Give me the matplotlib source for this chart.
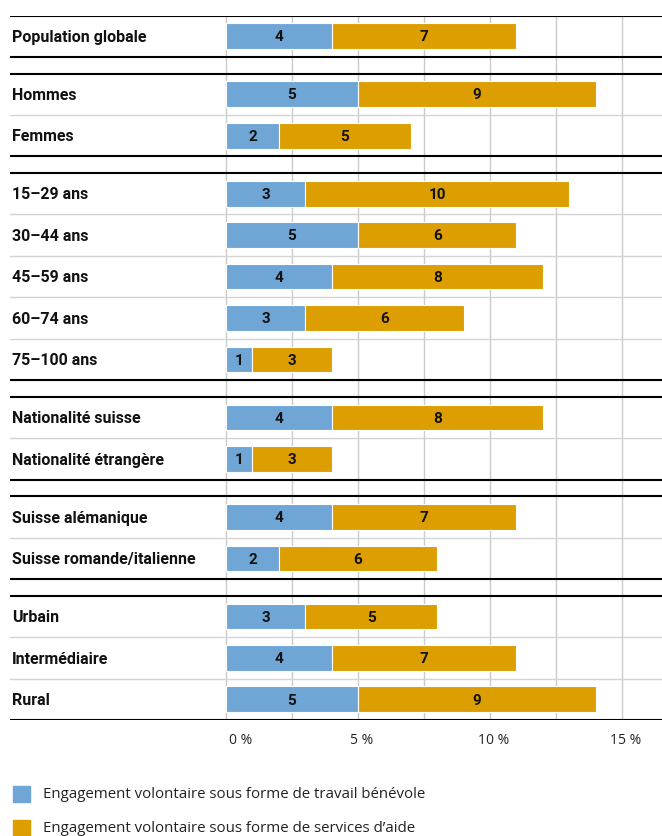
import numpy as np
import matplotlib.pyplot as plt

# Volunteer engagement by population group (share of population, %)
groups = [
    ["Population globale"],
    ["Hommes", "Femmes"],
    ["15–29 ans", "30–44 ans", "45–59 ans", "60–74 ans", "75–100 ans"],
    ["Nationalité suisse", "Nationalité étrangère"],
    ["Suisse alémanique", "Suisse romande/italienne"],
    ["Urbain", "Intermédiaire", "Rural"],
]
benevole = [4, 5, 2, 3, 5, 4, 3, 1, 4, 1, 4, 2, 3, 4, 5]
aide = [7, 9, 5, 10, 6, 8, 6, 3, 8, 3, 7, 6, 5, 7, 9]
xticks = [0, 5, 10, 15]
legend_labels = ["Engagement volontaire sous forme de travail bénévole",
                 "Engagement volontaire sous forme de services d’aide"]

blue = "#6FA6D6"
orange = "#DC9E00"
gap = 0.4

# row positions, with extra space between groups
ypos, starts, ends = [], [], []
y = 0.0
for g in groups:
    starts.append(y)
    for _ in g:
        ypos.append(y)
        y += 1
    ends.append(y - 1)
    y += gap
labels = [lab for g in groups for lab in g]
ypos = np.array(ypos)

W, H = 662, 836
fig = plt.figure(figsize=(W / 100, H / 100), dpi=100)
ax = fig.add_axes([10 / W, 1 - 720 / H, 652 / W, 704.5 / H])
px = 26.4  # pixels per percent
ax.set_xlim(-216 / px, 436 / px)
ax.set_ylim(ends[-1] + 0.5, -0.5)
ax.axis("off")

# vertical grid every 2.5 %
for gx in np.arange(0, 15.1, 2.5):
    ax.axvline(gx, color="#cbcbcb", lw=1.0, zorder=0)

# separators between rows inside a group
for s, e in zip(starts, ends):
    for r in np.arange(s, e):
        ax.axhline(r + 0.5, color="#d4d4d4", lw=1.0, zorder=0.5)

# double black lines between groups
for s, e in zip(starts, ends):
    ax.axhline(s - 0.5, color="black", lw=1.5, zorder=3)
    ax.axhline(e + 0.5, color="black", lw=1.5, zorder=3)

ax.barh(ypos, benevole, height=0.62, color=blue, edgecolor="white", lw=0.8, zorder=2)
ax.barh(ypos, aide, left=benevole, height=0.62, color=orange, edgecolor="white", lw=0.8, zorder=2)

lab_font = dict(family=["Roboto", "DejaVu Sans"], fontweight="bold", color="#111111")
for yy, b, a, lab in zip(ypos, benevole, aide, labels):
    ax.text(b / 2, yy + 0.03, str(b), ha="center", va="center", fontsize=11, **lab_font)
    ax.text(b + a / 2, yy + 0.03, str(a), ha="center", va="center", fontsize=11, **lab_font)
    ax.text(-8.1, yy + 0.03, lab, ha="left", va="center", fontsize=11.5, **lab_font)

# x tick labels below the chart
for t in xticks:
    off = 0.1 if t == 0 else 0.12
    ha = "left" if t == 0 else "center"
    ax.text(t + off, ends[-1] + 1.0, f"{t} %", ha=ha, va="center", fontsize=10,
            family="Open Sans", color="#222222")

# legend
for i, (lab, c) in enumerate(zip(legend_labels, [blue, orange])):
    yf = 1 - (794 + 34 * i) / H
    fig.patches.append(plt.Rectangle((13 / W, yf - 8 / H), 17 / W, 16 / H,
                                     transform=fig.transFigure, color=c))
    fig.text(43 / W, yf, lab, ha="left", va="center", fontsize=10.8,
             family="Open Sans", color="#222222")

fig.savefig("out.png", dpi=100)
